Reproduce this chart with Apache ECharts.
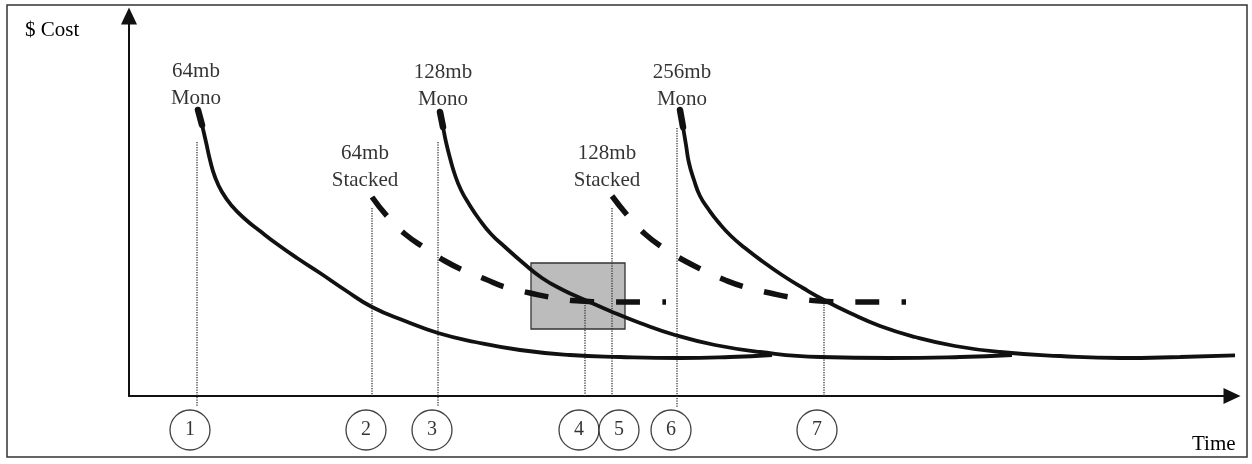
<!DOCTYPE html>
<html>
<head>
<meta charset="utf-8">
<script src="https://cdn.jsdelivr.net/npm/echarts@6/dist/echarts.min.js"></script>
<style>html,body{margin:0;padding:0;background:#fff}#c{width:1252px;height:464px}</style>
</head>
<body>
<div id="c"></div>
<script>
// ---- data (time, cost) ----
const mono64 = [[6.9,28.6],[7.3,27.1],[7.7,25.4],[8.1,23.6],[8.6,21.9],[9.3,20.4],[10.3,19.0],[11.6,17.7],[13.1,16.5],[14.8,15.2],[16.8,13.8],[19.1,12.3],[21.6,10.6],[24.3,8.9],[27.6,7.5],[30.9,6.3],[34.6,5.4],[39.1,4.6],[44.1,4.1],[49.1,3.9],[55.1,3.8],[60.1,3.9],[64.3,4.1]];
const mono128 = [[31.1,28.4],[31.4,26.9],[31.7,25.4],[32.1,23.8],[32.6,22.1],[33.2,20.6],[34.0,19.2],[35.0,17.7],[36.2,16.2],[37.6,14.9],[39.3,13.4],[41.3,11.8],[43.4,10.6],[45.6,9.6],[48.1,8.5],[51.1,7.3],[54.6,6.1],[58.6,5.1],[63.1,4.4],[69.1,3.9],[76.1,3.8],[83.1,3.9],[88.3,4.1]];
const mono256 = [[55.1,28.6],[55.4,26.9],[55.7,25.1],[56.0,23.3],[56.5,21.6],[57.1,20.0],[58.0,18.6],[59.0,17.3],[60.2,16.0],[61.6,14.8],[63.3,13.5],[65.3,12.1],[67.4,10.8],[69.5,9.6],[72.1,8.3],[75.1,7.0],[78.6,5.9],[82.6,5.0],[87.1,4.4],[93.1,4.0],[99.1,3.8],[105.1,3.9],[111.9,4.1]];
const stacked64 = [[24.3,19.9],[25.8,18.0],[27.6,16.2],[29.6,14.8],[31.6,13.5],[33.6,12.5],[35.6,11.7],[37.6,10.9],[40.1,10.3],[42.6,9.8],[45.1,9.5],[48.1,9.4],[51.6,9.4],[53.7,9.4]];
const stacked128 = [[48.3,20.0],[49.9,18.0],[51.6,16.2],[53.6,14.7],[55.6,13.5],[57.6,12.5],[59.6,11.6],[61.6,10.9],[64.1,10.3],[66.6,9.8],[69.1,9.5],[72.1,9.4],[75.6,9.4],[77.7,9.4]];
const curveLabels = ['64mb\nMono','128mb\nMono','256mb\nMono','64mb\nStacked','128mb\nStacked'];
const markerTimes = [6.8, 24.3, 30.9, 45.6, 48.3, 54.8, 69.5];
const markerTops = [25.4, 18.8, 25.4, 9.6, 18.8, 26.8, 9.4];
const markerBottoms = [-1.1, 0, -1.1, 0, 0, -1.1, 0];
const circleTimes = [6.1, 23.7, 30.3, 45.0, 49.0, 54.2, 68.8];
const circleLevel = -3.4;
const circleLabels = ['1','2','3','4','5','6','7'];
const boxCorners = [[40.2, 13.3], [49.6, 6.7]];
const xTitle = 'Time';
const yTitle = '$ Cost';

// ---- chart ----
const FONT = 'Liberation Serif';
const INK = '#111';
const TEXT = '#000';
const chart = echarts.init(document.getElementById('c'), null, {renderer: 'canvas'});

const labelOffsets = [[-2,1.5],[3,0.5],[2,2.5],[-7,-3.5],[-5,-2.5]];
const starts = [mono64[0], mono128[0], mono256[0], stacked64[0], stacked128[0]];

const monoSeries = (d) => ({
  type: 'line', data: d, showSymbol: false, smooth: 0.5,
  clip: false, z: 5, silent: true,
  lineStyle: {color: INK, width: 3.8}
});
const capSeries = (d) => ({
  type: 'line', data: d.slice(0, 2), showSymbol: false, clip: false, z: 6, silent: true,
  lineStyle: {color: INK, width: 6.5, cap: 'round'}
});
const stackSeries = (d) => ({
  type: 'line', data: d, showSymbol: false, smooth: 0.5,
  clip: false, z: 5, silent: true,
  lineStyle: {color: INK, width: 5.5, type: [24, 22], cap: 'butt'}
});
const dotSeries = (t, i) => ({
  type: 'line', data: [[t, markerTops[i]], [t, markerBottoms[i]]], showSymbol: false,
  clip: false, z: 2, silent: true,
  lineStyle: {color: '#333', width: 1.3, type: [1.2, 1.3]}
});

chart.setOption({
  animation: false,
  backgroundColor: '#fff',
  grid: {left: 129, right: 20, top: 16, bottom: 68},
  xAxis: {
    type: 'value', min: 0, max: 110.3,
    axisLine: {show: true, onZero: true, symbol: ['none', 'triangle'], symbolSize: [16, 17],
      lineStyle: {color: INK, width: 2}},
    axisTick: {show: false}, axisLabel: {show: false}, splitLine: {show: false}
  },
  yAxis: {
    type: 'value', min: 0, max: 38.0,
    axisLine: {show: true, onZero: true, symbol: ['none', 'triangle'], symbolSize: [16, 17],
      lineStyle: {color: INK, width: 2}},
    axisTick: {show: false}, axisLabel: {show: false}, splitLine: {show: false}
  },
  graphic: [
    {type: 'rect', shape: {x: 7, y: 5, width: 1240, height: 452}, z: 0,
      style: {fill: 'none', stroke: '#333', lineWidth: 1.5}},
    {type: 'text', left: 25, top: 20, z: 10,
      style: {text: yTitle, font: '21px "Liberation Serif"', fill: TEXT}},
    {type: 'text', left: 1192, top: 434, z: 10,
      style: {text: xTitle, font: '21px "Liberation Serif"', fill: TEXT}}
  ],
  series: [
    {
      type: 'line', data: [], silent: true, z: 1, clip: false,
      markArea: {
        silent: true,
        itemStyle: {color: '#bcbcbc', borderColor: '#333', borderWidth: 1.3},
        data: [[{coord: boxCorners[0]}, {coord: boxCorners[1]}]]
      }
    },
    ...markerTimes.map(dotSeries),
    monoSeries(mono64), monoSeries(mono128), monoSeries(mono256),
    capSeries(mono64), capSeries(mono128), capSeries(mono256),
    stackSeries(stacked64), stackSeries(stacked128),
    {
      type: 'scatter', symbolSize: 0, clip: false, z: 8, silent: true,
      data: starts.map((p, i) => ({
        value: p,
        label: {
          show: true, position: 'top', distance: 0, offset: labelOffsets[i],
          formatter: curveLabels[i], align: 'center', lineHeight: 27,
          fontFamily: FONT, fontSize: 21, color: TEXT
        }
      }))
    },
    {
      type: 'scatter', symbol: 'circle', symbolSize: 40, clip: false, z: 8, silent: true,
      itemStyle: {color: '#fff', borderColor: INK, borderWidth: 1.3},
      label: {show: true, position: 'inside', fontFamily: FONT, fontSize: 20, color: TEXT,
        formatter: (p) => circleLabels[p.dataIndex]},
      data: circleTimes.map(t => [t, circleLevel])
    }
  ]
});
</script>
</body>
</html>
